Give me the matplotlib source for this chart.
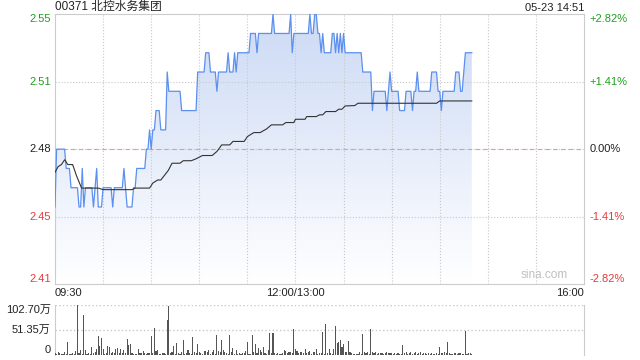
import numpy as np
import matplotlib
matplotlib.use('Agg')
import matplotlib.pyplot as plt
from matplotlib.colors import LinearSegmentedColormap

plt.rcParams['font.family'] = ['Liberation Sans', 'Noto Sans CJK SC', 'DejaVu Sans']

# ---- data ----
title = '00371 北控水务集团'
stamp = '05-23 14:51'
prev_close = 2.48

# minute price as runs: level, number of minutes
price_levels = [2.45, 2.48, 2.47, 2.46, 2.45, 2.47, 2.45, 2.46, 2.45, 2.46, 2.47, 2.45, 2.46, 2.45,
                2.46, 2.47, 2.46, 2.45, 2.46, 2.47, 2.48, 2.49, 2.48, 2.49, 2.50, 2.49, 2.52, 2.51,
                2.50, 2.52, 2.53, 2.52, 2.51, 2.52, 2.53, 2.52, 2.53, 2.52, 2.53, 2.54, 2.53, 2.54,
                2.55, 2.54, 2.55, 2.53, 2.54, 2.55, 2.54, 2.55, 2.54, 2.53, 2.54, 2.53, 2.54, 2.53,
                2.54, 2.53, 2.54, 2.53, 2.54, 2.53, 2.52, 2.50, 2.51, 2.50, 2.51, 2.52, 2.51, 2.50,
                2.51, 2.50, 2.51, 2.52, 2.51, 2.52, 2.51, 2.50, 2.51, 2.52, 2.51, 2.52, 2.53]
price_runs = [1, 6, 3, 5, 2, 1, 1, 5, 1, 1, 1, 3, 6, 1,
              6, 1, 1, 4, 2, 6, 2, 1, 1, 2, 3, 4, 1, 8,
              10, 5, 3, 4, 1, 6, 1, 3, 1, 1, 8, 4, 1, 9,
              1, 10, 1, 1, 10, 1, 2, 2, 2, 1, 1, 5, 2, 1,
              1, 1, 1, 1, 1, 11, 6, 1, 8, 1, 1, 1, 5, 4,
              4, 1, 2, 1, 8, 4, 2, 1, 8, 3, 2, 1, 5]

# average price line (minute, value)
avg_minutes = [0, 2, 4, 6, 8, 11, 13.5, 16.6, 27, 30, 48, 50, 59, 61, 64, 66, 70.7, 73, 78, 80,
               85, 88, 92, 98, 101, 104, 109, 111, 118, 120, 124, 128, 132, 135, 142, 144, 149,
               150, 156, 157, 163, 165, 167, 169, 175, 177, 179, 181, 187, 189, 238, 240, 260]
avg_values = [2.468, 2.471, 2.472, 2.4745, 2.472, 2.472, 2.466, 2.4598, 2.4598, 2.459, 2.459,
              2.4598, 2.4598, 2.4624, 2.464, 2.464, 2.469, 2.4727, 2.4727, 2.474, 2.474, 2.475,
              2.4767, 2.4767, 2.4788, 2.4822, 2.4822, 2.484, 2.484, 2.4865, 2.4886, 2.4886,
              2.4905, 2.4926, 2.4926, 2.4938, 2.4938, 2.4955, 2.4955, 2.4969, 2.4969, 2.4978,
              2.4978, 2.4995, 2.4995, 2.5007, 2.5007, 2.5024, 2.5026, 2.5038, 2.5038, 2.505, 2.505]

# volume per minute, in 万
volume = [3.4, 2, 6.8, 3.4, 2, 2.5, 6.8, 2, 27.4, 2, 2, 3.4, 2, 8, 102.7, 5, 10.3, 3, 82.2, 10.3,
          2, 3.4, 2, 17, 3.4, 6.8, 11.6, 39.7, 18.5, 34.9, 11.6, 2, 3.4, 18.5, 15.5, 4.8, 6.8, 3.4, 11.6, 13.7,
          3.4, 11.6, 4.8, 10.3, 3.4, 32.9, 20.5, 22.6, 3.4, 2, 2, 2, 11.6, 3.4, 4.8, 8.9, 3.4, 2, 3.4, 4.8,
          39, 4.8, 56.1, 8.9, 10.3, 2, 2, 3.4, 3.4, 2, 71.9, 101.3, 3.4, 6.8, 18.5, 3, 25.3, 3.4, 2, 6.8,
          30.8, 3, 3.4, 10.3, 3.4, 2, 37.7, 6.8, 4.8, 22.6, 6.8, 3.4, 2, 8.9, 8.9, 6.8, 10.3, 3, 6.8, 10.3,
          3, 41, 8.9, 6.8, 30.8, 10.3, 6.8, 3.4, 2, 41, 6.8, 13.7, 2, 10.3, 2, 3.4, 2, 3.4, 4.8, 8.9,
          26, 2, 2, 41, 6.8, 22.6, 4.8, 13.7, 10.3, 6.8, 17, 3.4, 2, 10.3, 45.9, 3.4, 45.9, 3.4, 2, 3.4,
          2, 2, 3.4, 10.3, 8.9, 3.4, 6.8, 6.8, 3.4, 53.4, 11.6, 8.9, 4.8, 6.8, 6.8, 4.8, 11.6, 3.4, 6.8, 8.9,
          2, 6.8, 6.8, 11.6, 2, 3.4, 3.4, 47.9, 3, 63.7, 3.4, 11.6, 4.8, 2, 11.6, 59.6, 24, 27.4, 30.8, 17,
          22.6, 6.8, 6.8, 29.4, 6.8, 3.4, 2, 2, 2, 2, 6.8, 3, 43, 6.8, 4.8, 6.8, 3, 52.7, 6.8, 4.8,
          6.8, 2, 4.8, 3.4, 3.4, 2, 4.8, 6.8, 4.8, 3.4, 4.8, 2, 3.4, 2, 4.8, 2, 3, 20.5, 3.4, 6.8,
          2, 3.4, 6.8, 2, 4.8, 6.8, 2, 4.8, 6.8, 2, 3.4, 4.8, 2, 4.8, 2, 3.4, 2, 2, 4.8, 3,
          17, 3.4, 4.8, 6.8, 4.8, 27.4, 3.4, 2, 2, 4.8, 3.4, 2, 4.8, 3.4, 2, 3, 50, 2, 4.8, 3.4,
          2]
vol_max = 102.70

pct_ticks = [0.0282, 0.0141, 0.0, -0.0141, -0.0282]
left_labels = ['2.55', '2.51', '2.48', '2.45', '2.41']
right_labels = ['+2.82%', '+1.41%', '0.00%', '-1.41%', '-2.82%']
time_labels = ['09:30', '12:00/13:00', '16:00']
time_pos = [0, 150, 330]

green = '#1f9f1f'
red = '#e83a3a'
label_colors = [green, green, '#222222', red, red]
label_va = ['top', 'center', 'center', 'center', 'bottom']

price = np.repeat(price_levels, price_runs)
minutes = np.arange(len(price))
ymin = prev_close * (1 + pct_ticks[-1])
ymax = prev_close * (1 + pct_ticks[0])
tick_y = [prev_close * (1 + p) for p in pct_ticks]

fig = plt.figure(figsize=(6.4, 3.6), dpi=100)
ax = fig.add_axes([55 / 640, 76 / 360, 529 / 640, 269.7 / 360])
axv = fig.add_axes([55 / 640, 5 / 360, 529 / 640, 50 / 360])

# gradient fill under the price
cmap = LinearSegmentedColormap.from_list('fade', ['#ffffff', '#ccdaf5'])
grad = np.linspace(1, 0, 256).reshape(-1, 1)
im = ax.imshow(grad, aspect='auto', cmap=cmap, extent=[0, minutes[-1], ymin, ymax],
               origin='upper', zorder=1)
poly = ax.fill_between(minutes, price, ymin, facecolor='none', edgecolor='none')
im.set_clip_path(poly.get_paths()[0], transform=ax.transData)

ax.plot(minutes, price, color='#5b8ff0', lw=0.9, zorder=4)
ax.plot(avg_minutes, avg_values, color='#333333', lw=0.8, zorder=5)
ax.axhline(prev_close, color='#f0a070', lw=0.8, ls=(0, (4, 3)), zorder=3)

ax.set_xlim(0, 330)
ax.set_ylim(ymin, ymax)
ax.set_xticks([])
ax.set_yticks([])
for x in range(30, 330, 30):
    ax.axvline(x, color='#c8c8c8', lw=0.8, ls=':', zorder=2)
for y in tick_y[1:-1]:
    ax.axhline(y, color='#c8c8c8', lw=0.8, ls=':', zorder=2)
for s in ax.spines.values():
    s.set_color('#cccccc')

for y, lt, rt, c, va in zip(tick_y, left_labels, right_labels, label_colors, label_va):
    ax.annotate(lt, (0, y), xycoords=('axes fraction', 'data'), xytext=(-3, 0),
                textcoords='offset points', ha='right', va=va, color=c, fontsize=8)
    ax.annotate(rt, (1, y), xycoords=('axes fraction', 'data'), xytext=(4, 0),
                textcoords='offset points', ha='left', va=va, color=c, fontsize=8)

for t, p, ha in zip(time_labels, time_pos, ['left', 'center', 'right']):
    ax.annotate(t, (p, 0), xycoords=('data', 'axes fraction'), xytext=(0, -3),
                textcoords='offset points', ha=ha, va='top', color='#222222', fontsize=8)

ax.annotate(title, (0, 1), xycoords='axes fraction', xytext=(0, 1), textcoords='offset points',
            ha='left', va='bottom', color='#222222', fontsize=8.5)
ax.annotate(stamp, (1, 1), xycoords='axes fraction', xytext=(0, 1), textcoords='offset points',
            ha='right', va='bottom', color='#222222', fontsize=8)
ax.annotate('sina.com', (320, 0), xycoords=('data', 'axes fraction'), xytext=(0, 2),
            textcoords='offset points', ha='right', va='bottom', color='#c0c0c0', fontsize=8.5)

# volume panel
axv.bar(np.arange(len(volume)), volume, width=0.7, color='#555555', zorder=3)
axv.set_xlim(0, 330)
axv.set_ylim(0, vol_max)
axv.set_xticks([])
axv.set_yticks([])
axv.axhline(vol_max, color='#c8c8c8', lw=1, ls=':', zorder=1)
axv.axhline(vol_max / 2, color='#c8c8c8', lw=1, ls=':', zorder=1)
axv.spines['top'].set_visible(False)
axv.spines['bottom'].set_visible(False)
for s in ['left', 'right']:
    axv.spines[s].set_color('#cccccc')
for v, lab, va in zip([vol_max, vol_max / 2, 0], ['102.70万', '51.35万', '0'], ['top', 'center', 'bottom']):
    axv.annotate(lab, (0, v), xycoords=('axes fraction', 'data'), xytext=(-3, 0),
                 textcoords='offset points', ha='right', va=va, color='#222222', fontsize=8)

fig.savefig('out.png', dpi=100)
